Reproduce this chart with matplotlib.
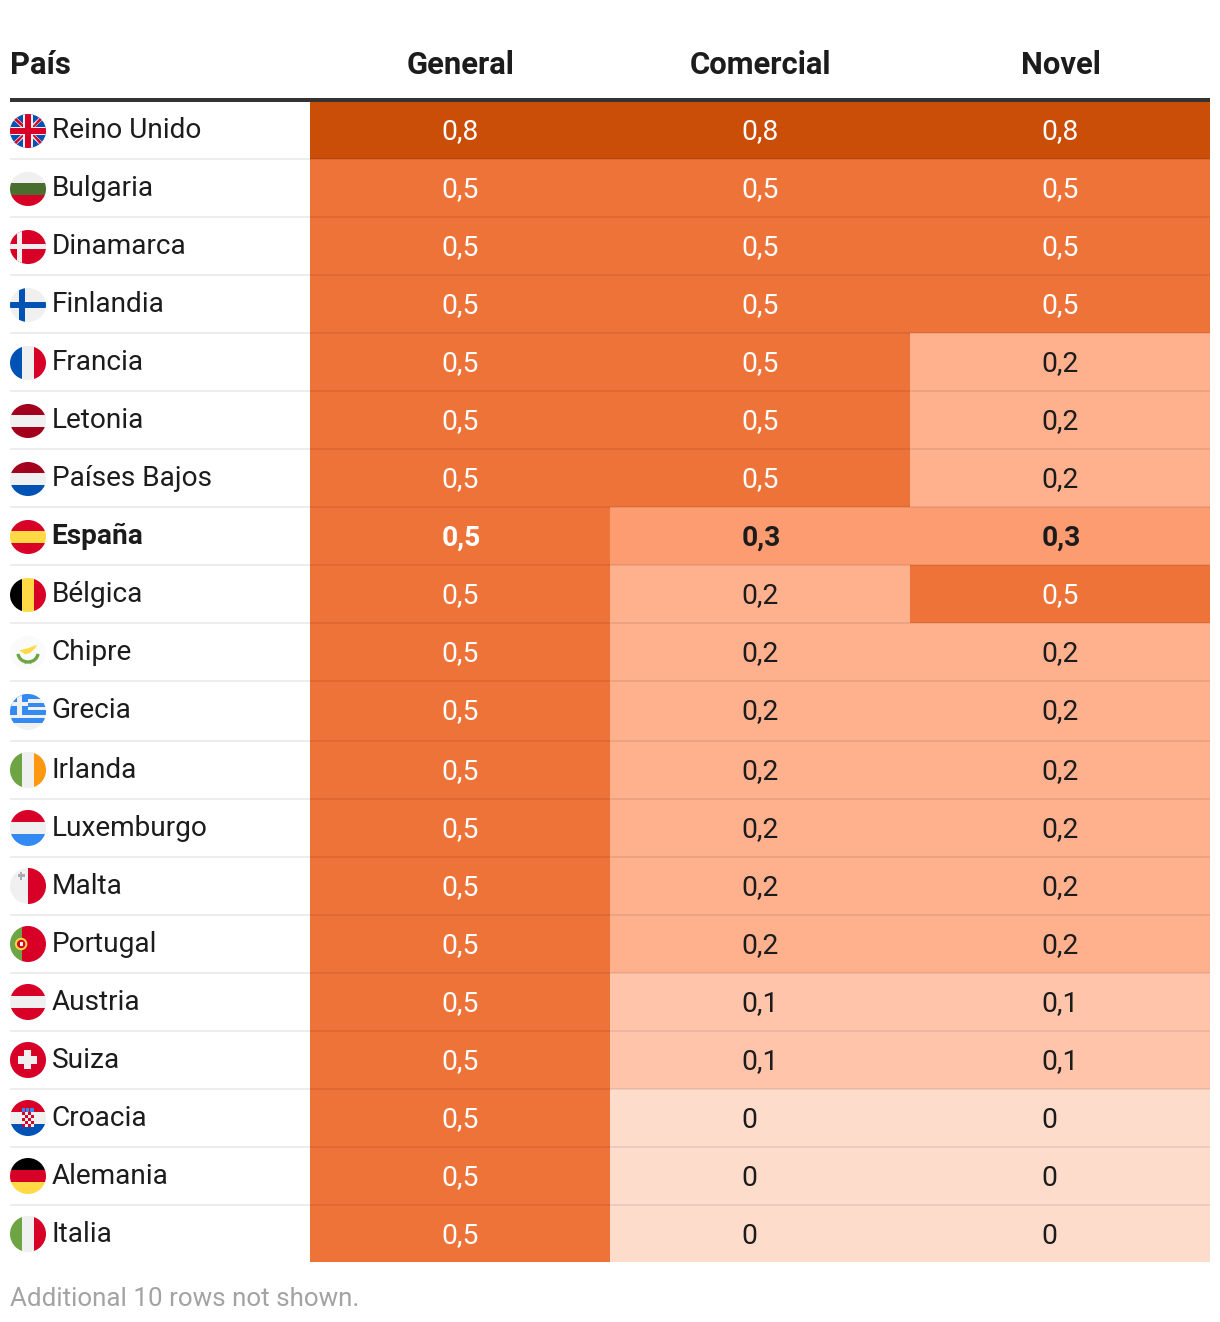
from matplotlib import pyplot as plt
from matplotlib.patches import Ellipse, Rectangle, Polygon, Circle, Arc

paises = ["Reino Unido", "Bulgaria", "Dinamarca", "Finlandia", "Francia", "Letonia", "Países Bajos",
          "España", "Bélgica", "Chipre", "Grecia", "Irlanda", "Luxemburgo", "Malta", "Portugal",
          "Austria", "Suiza", "Croacia", "Alemania", "Italia"]
general = [0.8, 0.5, 0.5, 0.5, 0.5, 0.5, 0.5, 0.5, 0.5, 0.5, 0.5, 0.5, 0.5, 0.5, 0.5, 0.5, 0.5, 0.5, 0.5, 0.5]
comercial = [0.8, 0.5, 0.5, 0.5, 0.5, 0.5, 0.5, 0.3, 0.2, 0.2, 0.2, 0.2, 0.2, 0.2, 0.2, 0.1, 0.1, 0, 0, 0]
novel = [0.8, 0.5, 0.5, 0.5, 0.2, 0.2, 0.2, 0.3, 0.5, 0.2, 0.2, 0.2, 0.2, 0.2, 0.2, 0.1, 0.1, 0, 0, 0]
columnas = ["General", "Comercial", "Novel"]

# colores de celda
colores = {0.8: "#CA4D08", 0.5: "#EE7339", 0.3: "#FC9C70", 0.2: "#FFB08D", 0.1: "#FFC4AA", 0: "#FDDCCB"}
oscuro = "#1C1C1C"

# bordes de fila en pixeles
bordes = [101, 159, 217, 275, 333, 391, 449, 507, 565, 623, 681, 741, 799, 857, 915, 973, 1031, 1089, 1147, 1205, 1262]
col_x = [310, 610, 910, 1210]

plt.rcParams['font.family'] = ['Roboto', 'DejaVu Sans']
fig = plt.figure(figsize=(12.2, 13.22), dpi=100)
ax = fig.add_axes([0, 0, 1, 1])
ax.set_xlim(0, 1220)
ax.set_ylim(1322, 0)
ax.axis("off")

R = "#D80027"
B = "#0052B4"
W = "#F0F0F0"
G = "#6DA544"
Y = "#FFDA44"
K = "#000000"
LB = "#338AF3"
LT = "#A2001D"

franjas_h = {"Bulgaria": [W, "#496E2D", R], "Letonia": [LT, W, LT], "Países Bajos": [LT, W, B],
             "Luxemburgo": [R, W, LB], "Austria": [R, W, R], "Croacia": [R, W, B], "Alemania": [K, R, Y]}
franjas_v = {"Francia": [B, W, R], "Bélgica": [K, Y, R], "Irlanda": [G, W, "#FF9811"], "Italia": [G, W, R]}


def bandera(nombre, cx, cy, h):
    x0, y0 = cx - 18, cy - h / 2
    fondo = Ellipse((cx, cy), 36, h, fc=W, ec="none", zorder=3)
    ax.add_patch(fondo)

    def rect(fx, fy, fw, fh, color):
        p = Rectangle((x0 + fx * 36, y0 + fy * h), fw * 36, fh * h, fc=color, ec="none", zorder=4)
        ax.add_patch(p)
        p.set_clip_path(fondo)

    def poli(pts, color):
        p = Polygon([(x0 + a * 36, y0 + b * h) for a, b in pts], fc=color, ec="none", zorder=4)
        ax.add_patch(p)
        p.set_clip_path(fondo)

    if nombre in franjas_h:
        for i, c in enumerate(franjas_h[nombre]):
            rect(0, i / 3, 1, 1 / 3 + 0.005, c)
        if nombre == "Croacia":
            for j in range(3):
                rect(0.32 + j * 0.12, 0.22, 0.1, 0.12, LB)
            for i in range(5):
                for j in range(4):
                    rect(0.33 + j * 0.085, 0.34 + i * 0.08, 0.085, 0.08, R if (i + j) % 2 == 0 else W)
    elif nombre in franjas_v:
        for i, c in enumerate(franjas_v[nombre]):
            rect(i / 3, 0, 1 / 3 + 0.005, 1, c)
    elif nombre == "Reino Unido":
        rect(0, 0, 1, 1, B)
        poli([(0, 0.08), (0.08, 0), (1, 0.92), (0.92, 1)], W)
        poli([(0, 0.92), (0.92, 0), (1, 0.08), (0.08, 1)], W)
        poli([(0.1, 0.16), (0.16, 0.1), (0.44, 0.38), (0.36, 0.4)], R)
        poli([(0.6, 0.6), (0.66, 0.6), (0.9, 0.84), (0.84, 0.9)], R)
        poli([(0.16, 0.9), (0.1, 0.84), (0.36, 0.6), (0.42, 0.6)], R)
        poli([(0.84, 0.1), (0.9, 0.16), (0.64, 0.42), (0.58, 0.42)], R)
        rect(0.37, 0, 0.26, 1, W)
        rect(0, 0.37, 1, 0.26, W)
        rect(0.42, 0, 0.16, 1, R)
        rect(0, 0.42, 1, 0.16, R)
    elif nombre == "Dinamarca":
        rect(0, 0, 1, 1, R)
        rect(0.19, 0, 0.15, 1, W)
        rect(0, 0.42, 1, 0.15, W)
    elif nombre == "Finlandia":
        rect(0.25, 0, 0.17, 1, B)
        rect(0, 0.41, 1, 0.17, B)
    elif nombre == "España":
        rect(0, 0, 1, 0.31, R)
        rect(0, 0.31, 1, 0.38, Y)
        rect(0, 0.69, 1, 0.31, R)
    elif nombre == "Chipre":
        fondo.set_facecolor("#FAFAFA")
        poli([(0.26, 0.42), (0.5, 0.36), (0.75, 0.26), (0.7, 0.36), (0.55, 0.5), (0.42, 0.54)], Y)
        arco = Arc((x0 + 18, y0 + 0.5 * h), 20, 18, theta1=5, theta2=175, lw=2.4, color=G, zorder=4)
        ax.add_patch(arco)
        poli([(0.38, 0.72), (0.48, 0.72), (0.42, 0.84)], G)
        poli([(0.52, 0.72), (0.62, 0.72), (0.58, 0.84)], G)
    elif nombre == "Grecia":
        for a, b in [(0, 0.13), (0.24, 0.35), (0.45, 0.57), (0.68, 0.8)]:
            rect(0, a, 1, b - a, LB)
        rect(0, 0, 0.5, 0.57, LB)
        rect(0.2, 0, 0.12, 0.57, W)
        rect(0, 0.22, 0.5, 0.12, W)
    elif nombre == "Malta":
        rect(0.5, 0, 0.5, 1, R)
        rect(0.21, 0.18, 0.2, 0.07, "#ACABB1")
        rect(0.275, 0.12, 0.07, 0.2, "#ACABB1")
    elif nombre == "Portugal":
        rect(0, 0, 0.33, 1, G)
        rect(0.33, 0, 0.67, 1, R)
        ax.add_patch(Circle((x0 + 0.31 * 36, cy), 6.2, fc=Y, ec="none", zorder=5))
        ax.add_patch(Circle((x0 + 0.31 * 36, cy), 4.2, fc=R, ec="none", zorder=6))
        ax.add_patch(Rectangle((x0 + 0.31 * 36 - 1.6, cy - 1.6), 3.2, 3.2, fc=W, ec="none", zorder=7))
    elif nombre == "Suiza":
        rect(0, 0, 1, 1, R)
        rect(0.22, 0.39, 0.52, 0.21, W)
        rect(0.38, 0.22, 0.21, 0.52, W)


# celdas
for j, serie in enumerate([general, comercial, novel]):
    x0, x1 = col_x[j], col_x[j + 1]
    centro = (x0 + x1) / 2
    ax.text(centro + 0.5, 74, columnas[j], ha="center", va="baseline", fontsize=22.3, fontweight="bold",
            color=oscuro)
    for i, v in enumerate(serie):
        top, bottom = bordes[i], bordes[i + 1]
        ax.add_patch(Rectangle((x0, top), x1 - x0, bottom - top, fc=colores[v], ec="none", zorder=1))
        negrita = paises[i] == "España"
        color = "white" if v >= 0.5 else oscuro
        etiqueta = str(v).replace(".", ",")
        ax.text(centro - 18.2, top + 38.5, etiqueta, ha="left", va="baseline", fontsize=20.3,
                fontweight="bold" if negrita else "normal", color=color, zorder=5)

# columna de pais
ax.text(10, 74, "País", ha="left", va="baseline", fontsize=22.3, fontweight="bold", color=oscuro)
for i, nombre in enumerate(paises):
    top = bordes[i]
    ax.text(51.7, top + 37, nombre, ha="left", va="baseline", fontsize=20.2,
            fontweight="bold" if nombre == "España" else "normal", color=oscuro, zorder=5)
    if nombre == "Grecia":
        bandera(nombre, 28, top + 31, 36)
    elif i < 10:
        bandera(nombre, 28, top + 30, 34)
    else:
        bandera(nombre, 28, top + 29, 36)

# separadores
for y in bordes[1:-1]:
    ax.add_patch(Rectangle((10, y - 1), 1200, 2, fc="black", alpha=0.07, ec="none", zorder=2))
ax.add_patch(Rectangle((10, 98), 1200, 4, fc="#333333", ec="none", zorder=2))

ax.text(10, 1306.3, "Additional 10 rows not shown.", ha="left", va="baseline", fontsize=18.7, color="#A3A3A3")

plt.savefig("out.png", dpi=100)
